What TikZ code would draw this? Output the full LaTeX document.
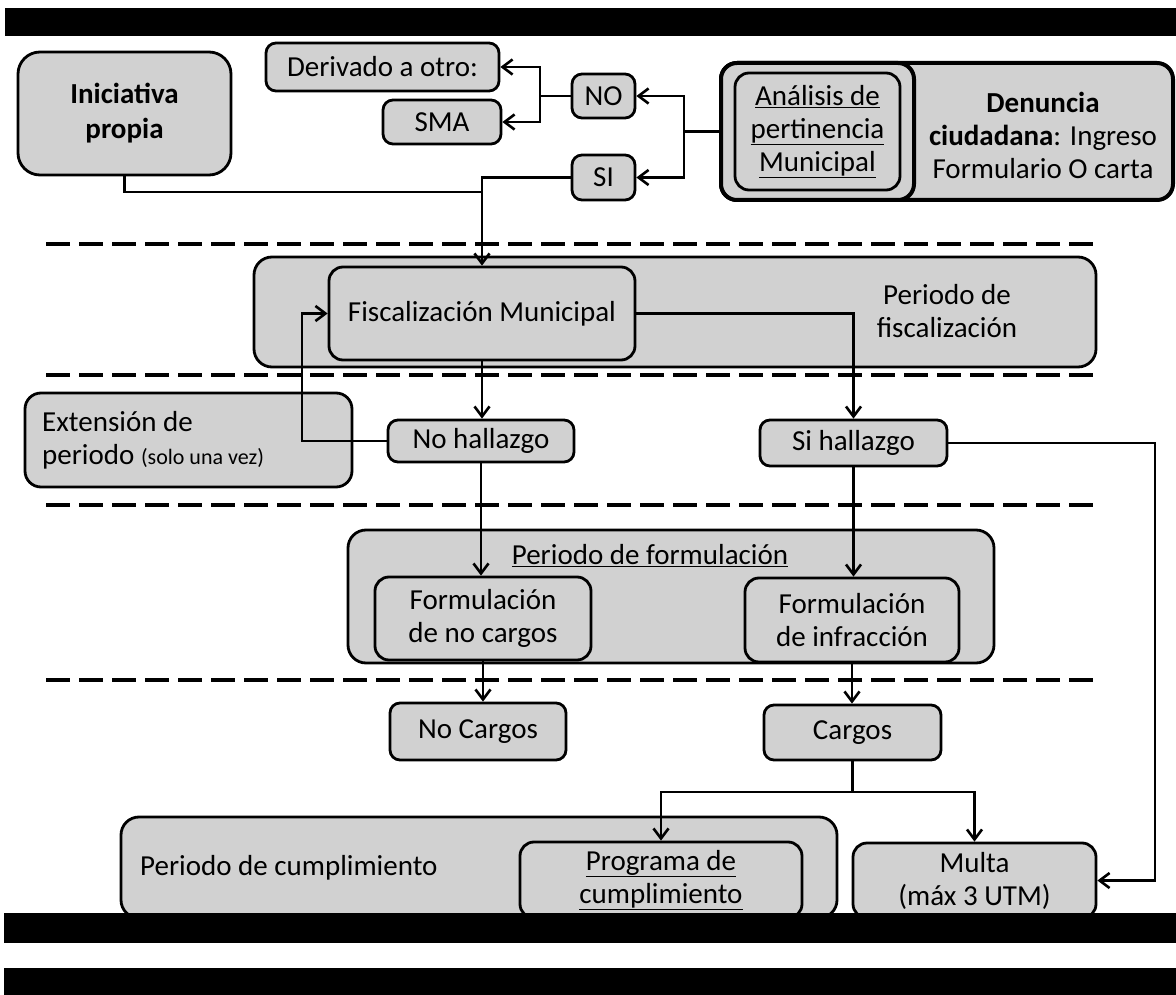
\documentclass[tikz,border=0pt]{standalone}
\usepackage{fontspec}
\setmainfont{Carlito}
\usetikzlibrary{arrows.meta}
\definecolor{boxgray}{gray}{0.82}
\begin{document}
\begin{tikzpicture}[x=1pt,y=-1pt,
  box/.style={draw, fill=boxgray, line width=2.8pt, rounded corners=10pt, inner sep=0pt, align=center, font=\fontsize{29}{33}\selectfont},
  lbl/.style={inner sep=0pt, align=center, font=\fontsize{29}{33}\selectfont},
  arr/.style={line width=2.6pt, -{Straight Barb[length=10pt,width=15pt,line width=2.6pt]}},
  conn/.style={line width=2.6pt},
  sep/.style={line width=4.5pt, dash pattern=on 24pt off 9pt}]
\useasboundingbox (0,0) rectangle (1176,995);
\fill[white] (0,0) rectangle (1176,995);

% separators
\draw[sep] (46,244) -- (1098,244);
\draw[sep] (46,375) -- (1098,375);
\draw[sep] (46,505) -- (1098,505);
\draw[sep] (46,680) -- (1098,680);

% top row
\node[box, minimum width=213pt, minimum height=123pt, rounded corners=22pt, font=\bfseries\fontsize{29}{35}\selectfont] (ini) at (124.5,113.5) {Iniciativa\\propia};
\node[box, minimum width=233pt, minimum height=48pt] (der) at (382.5,67) {Derivado a otro:};
\node[box, minimum width=118pt, minimum height=44pt] (sma) at (442,122) {SMA};
\node[box, minimum width=63pt, minimum height=44pt] (no) at (603.5,96) {NO};
\node[box, minimum width=63pt, minimum height=45pt] (si) at (603.5,177.5) {SI};
\node[box, line width=4pt, minimum width=452pt, minimum height=137pt, rounded corners=16pt] (den) at (947,131.5) {};
\node[box, line width=4pt, minimum width=193pt, minimum height=137pt, rounded corners=16pt] (ring) at (817.5,131.5) {};
\node[box, minimum width=165pt, minimum height=117pt, rounded corners=14pt] (ana) at (817.5,131.5) {\underline{Análisis de}\\\underline{pertinencia}\\\underline{Municipal}};
\node[lbl] (dent) at (1043,135) {\textbf{Denuncia}\\\textbf{ciudadana}: Ingreso\\Formulario O carta};

% fiscalizacion
\node[box, minimum width=842pt, minimum height=110pt, rounded corners=18pt] (pfis) at (675,312) {};
\node[box, minimum width=306pt, minimum height=93pt, rounded corners=14pt] (fisc) at (482,313.5) {Fiscalización Municipal};
\node[lbl] (pfist) at (947,311) {Periodo de\\fiscalización};

\node[box, minimum width=327pt, minimum height=94pt, rounded corners=16pt] (ext) at (188.5,440) {};
\node[lbl, anchor=west, align=left] (extt) at (42,440) {Extensión de\\periodo {\fontsize{22}{25}\selectfont(solo una vez)}};
\node[box, minimum width=186pt, minimum height=42pt] (noh) at (481,441) {No hallazgo};
\node[box, minimum width=187pt, minimum height=46pt] (sih) at (853.5,443) {Si hallazgo};

% formulacion
\node[box, minimum width=646pt, minimum height=133pt, rounded corners=18pt] (pform) at (671,596.5) {};
\node[lbl] (pformt) at (650,556) {\underline{Periodo de formulación}};
\node[box, minimum width=216pt, minimum height=83pt, rounded corners=14pt] (fnc) at (483,618.5) {Formulación\\de no cargos};
\node[box, minimum width=214pt, minimum height=84pt, rounded corners=14pt] (finf) at (852,620) {Formulación\\de infracción};

\node[box, minimum width=176pt, minimum height=57pt] (nc) at (478,731.5) {No Cargos};
\node[box, minimum width=177pt, minimum height=55pt] (car) at (852.5,732.5) {Cargos};

% cumplimiento
\node[box, minimum width=716pt, minimum height=101pt, rounded corners=18pt] (pcum) at (479,867.5) {};
\node[lbl, anchor=west] (pcumt) at (140,868) {Periodo de cumplimiento};
\node[box, minimum width=282pt, minimum height=76pt, rounded corners=14pt] (prog) at (661,880) {\underline{Programa de}\\\underline{cumplimiento}};
\node[box, minimum width=243pt, minimum height=75pt, rounded corners=14pt] (multa) at (974.5,880.5) {Multa\\(máx 3 UTM)};

% junction coordinates
\coordinate (j1) at (684,131.5);
\coordinate (j2) at (540,96);
\coordinate (j3) at (482,192);
\coordinate (j4) at (302,441);
\coordinate (j5) at (1155,443);
\coordinate (j6) at (852.5,792);

% connectors
\draw[arr] (den.west) -- (j1) |- (no.east);
\draw[arr] (den.west) -- (j1) |- (si.east);
\draw[arr] (no.west) -- (j2) |- (der.east);
\draw[arr] (no.west) -- (j2) |- (sma.east);
\draw[arr] (si.west) -| (fisc.north);
\draw[conn] (ini.south) |- (j3);
\draw[arr] (fisc.south) -- (fisc.south |- noh.north);
\draw[arr] (fisc.east) -| (sih.north);
\draw[arr] (noh.west) -- (j4) |- (fisc.west);
\draw[arr] (sih.east) -- (j5) |- (multa.east);
\draw[arr] (noh.south) -- (noh.south |- fnc.north);
\draw[arr] (sih.south) -- (sih.south |- finf.north);
\draw[arr] (fnc.south) -- (fnc.south |- nc.north);
\draw[arr] (finf.south) -- (finf.south |- car.north);
\draw[conn] (car.south) -- (j6);
\draw[arr] (j6) -| (prog.north);
\draw[arr] (j6) -| (multa.north);

% black bars
\fill[black] (5,8) rectangle (1176,36);
\fill[black] (4,913) rectangle (1176,943);
\fill[black] (4,968) rectangle (1176,995);
\end{tikzpicture}
\end{document}
